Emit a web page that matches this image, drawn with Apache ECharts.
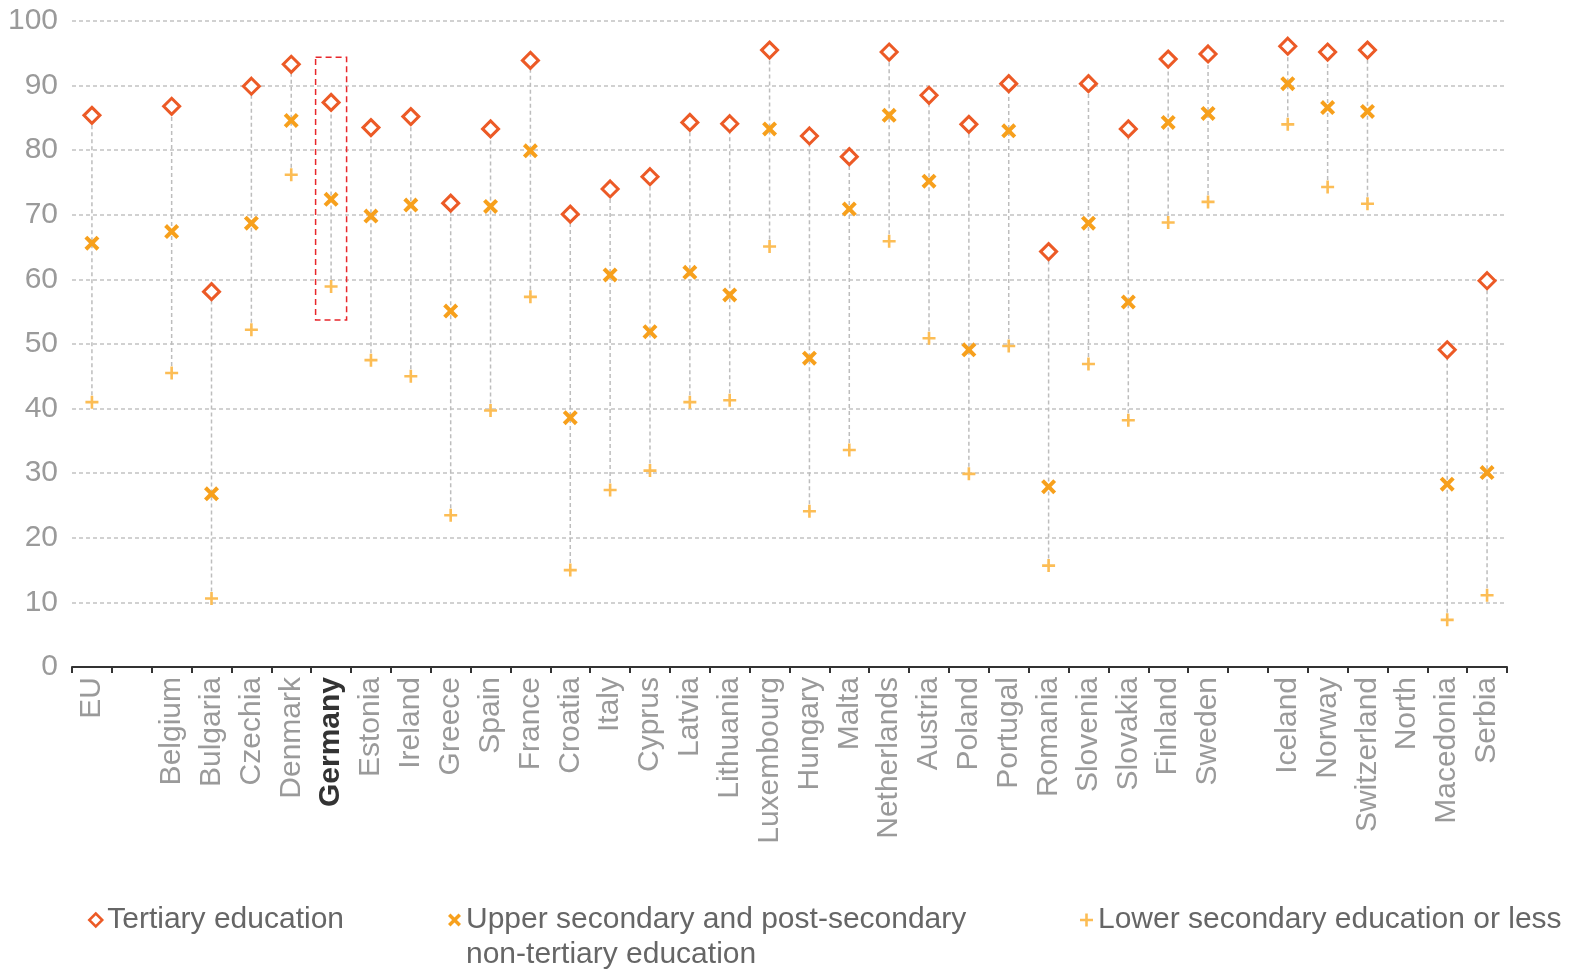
<!DOCTYPE html>
<html>
<head>
<meta charset="utf-8">
<script src="https://cdn.jsdelivr.net/npm/echarts@6/dist/echarts.min.js"></script>
<style>
html,body{margin:0;padding:0;background:#fff;}
#chart{width:1577px;height:969px;}
</style>
</head>
<body>
<div id="chart"></div>
<script>
const categories = ['EU','','Belgium','Bulgaria','Czechia','Denmark','Germany','Estonia','Ireland','Greece','Spain','France','Croatia','Italy','Cyprus','Latvia','Lithuania','Luxembourg','Hungary','Malta','Netherlands','Austria','Poland','Portugal','Romania','Slovenia','Slovakia','Finland','Sweden',' ','Iceland','Norway','Switzerland','  ','North Macedonia','Serbia'];

const tertiary = [85.4,null,86.8,58.1,89.9,93.3,87.4,83.5,85.2,71.8,83.3,93.9,70.1,74.0,75.9,84.3,84.1,95.5,82.2,79.0,95.2,88.5,84.0,90.3,64.3,90.3,83.3,94.1,94.9,null,96.1,95.2,95.5,null,49.1,59.8];
const upperSecondary = [65.6,null,67.4,26.8,68.7,84.6,72.4,69.8,71.5,55.1,71.3,79.9,38.6,60.7,51.9,61.1,57.6,83.3,47.8,70.9,85.4,75.2,49.1,83.0,27.9,68.7,56.5,84.3,85.7,null,90.3,86.6,86.0,null,28.3,30.1];
const lowerSecondary = [41.0,null,45.5,10.6,52.2,76.2,58.9,47.5,45.0,23.5,39.7,57.3,15.0,27.4,30.4,41.0,41.3,65.1,24.1,33.6,65.9,50.9,29.9,49.7,15.7,46.9,38.2,68.8,72.0,null,84.0,74.3,71.7,null,7.3,11.1];

const yTicks = [0,10,20,30,40,50,60,70,80,90,100];
const seriesNames = ['Tertiary education','Upper secondary and post-secondary non-tertiary education','Lower secondary education or less'];
const highlighted = 'Germany';
const highlightRange = [53.7, 94.4];

const FONT = '"Liberation Sans", Arial, sans-serif';
const FS = 30;
const X_PATH = 'path://M0,3.8L3.8,0L10,6.2L16.2,0L20,3.8L13.8,10L20,16.2L16.2,20L10,13.8L3.8,20L0,16.2L6.2,10Z';
const PLUS_PATH = 'path://M8,0H12V8H20V12H12V20H8V12H0V8H8Z';

const rangeData = [];
categories.forEach((c, i) => {
  if (tertiary[i] != null) {
    const vals = [tertiary[i], upperSecondary[i], lowerSecondary[i]];
    rangeData.push([i, Math.min.apply(null, vals), Math.max.apply(null, vals)]);
  }
});

const chart = echarts.init(document.getElementById('chart'));

const legendText = { fontSize: FS, color: '#666', fontFamily: FONT };

const option = {
  animation: false,
  backgroundColor: '#fff',
  textStyle: { fontFamily: FONT },
  grid: { left: 72, right: 70, top: 21, bottom: 302 },
  xAxis: {
    type: 'category',
    data: categories,
    boundaryGap: true,
    axisLine: { lineStyle: { color: '#333', width: 2 } },
    axisTick: { show: true, length: 6, interval: 0, lineStyle: { color: '#333', width: 2 } },
    splitLine: { show: false },
    axisLabel: {
      interval: 0,
      rotate: 90,
      margin: 10,
      fontSize: FS,
      color: '#9a9a9a',
      fontFamily: FONT,
      formatter: function (v) {
        if (v === highlighted) return '{b|' + v + '}';
        if (v === 'North Macedonia') return '{n|North}\n{n|Macedonia}\n{n| }';
        return v;
      },
      rich: {
        b: { fontWeight: 'bold', color: '#333', fontSize: FS, fontFamily: FONT },
        n: { fontSize: FS, color: '#9a9a9a', lineHeight: 40, fontFamily: FONT }
      }
    }
  },
  yAxis: {
    type: 'value',
    min: 0,
    max: 100,
    interval: 10,
    axisLine: { show: false },
    axisTick: { show: false },
    axisLabel: { fontSize: FS, color: '#9a9a9a', margin: 14, fontFamily: FONT, padding: [0, 0, 4, 0],
      formatter: function (v) { return yTicks.indexOf(v) >= 0 ? String(v) : ''; } },
    splitLine: { show: true, lineStyle: { color: '#c2c2c2', width: 1.5, type: [4, 3] } }
  },
  legend: [
    { data: [seriesNames[0]], left: 88, top: 905, padding: 0, itemWidth: 13, itemHeight: 13, itemGap: 0,
      itemStyle: { borderWidth: 2.5 },
      textStyle: legendText },
    { data: [seriesNames[1]], left: 448, top: 870, padding: 0, itemWidth: 13, itemHeight: 13, itemGap: 0,
      formatter: function () { return '{a| }\n{a|Upper secondary and post-secondary}\n{a|non-tertiary education}'; },
      textStyle: { fontSize: FS, color: '#666', fontFamily: FONT,
        rich: { a: { fontSize: FS, color: '#666', fontFamily: FONT, lineHeight: 35 } } } },
    { data: [seriesNames[2]], left: 1080, top: 905, padding: 0, itemWidth: 13, itemHeight: 13, itemGap: 0,
      textStyle: legendText }
  ],
  series: [
    {
      type: 'custom',
      name: 'range',
      silent: true,
      z: 1,
      renderItem: function (params, api) {
        const p1 = api.coord([api.value(0), api.value(1)]);
        const p2 = api.coord([api.value(0), api.value(2)]);
        return {
          type: 'line',
          shape: { x1: p1[0], y1: p1[1], x2: p2[0], y2: p2[1] },
          style: { stroke: '#bdbdbd', lineWidth: 1.5, lineDash: [4, 3] }
        };
      },
      encode: { x: 0, y: [1, 2] },
      data: rangeData
    },
    {
      type: 'scatter',
      name: seriesNames[2],
      symbol: PLUS_PATH,
      symbolSize: 13,
      z: 3,
      itemStyle: { color: '#fcbd55', opacity: 1 },
      data: lowerSecondary
    },
    {
      type: 'scatter',
      name: seriesNames[1],
      symbol: X_PATH,
      symbolSize: 15,
      z: 4,
      itemStyle: { color: '#f7a01c', opacity: 1 },
      data: upperSecondary
    },
    {
      type: 'scatter',
      name: seriesNames[0],
      symbol: 'diamond',
      symbolSize: 16,
      z: 5,
      itemStyle: { color: '#fff', borderColor: '#ec5a26', borderWidth: 3, opacity: 1 },
      data: tertiary
    }
  ]
};

chart.setOption(option);

const pTop = chart.convertToPixel({ xAxisIndex: 0, yAxisIndex: 0 }, [highlighted, highlightRange[1]]);
const pBot = chart.convertToPixel({ xAxisIndex: 0, yAxisIndex: 0 }, [highlighted, highlightRange[0]]);
chart.setOption({
  graphic: [{
    type: 'rect',
    z: 10,
    shape: { x: pTop[0] - 15.5, y: pTop[1], width: 31, height: pBot[1] - pTop[1] },
    style: { fill: 'none', stroke: '#e8262b', lineWidth: 1.5, lineDash: [6, 4] },
    silent: true
  }]
});
</script>
</body>
</html>
